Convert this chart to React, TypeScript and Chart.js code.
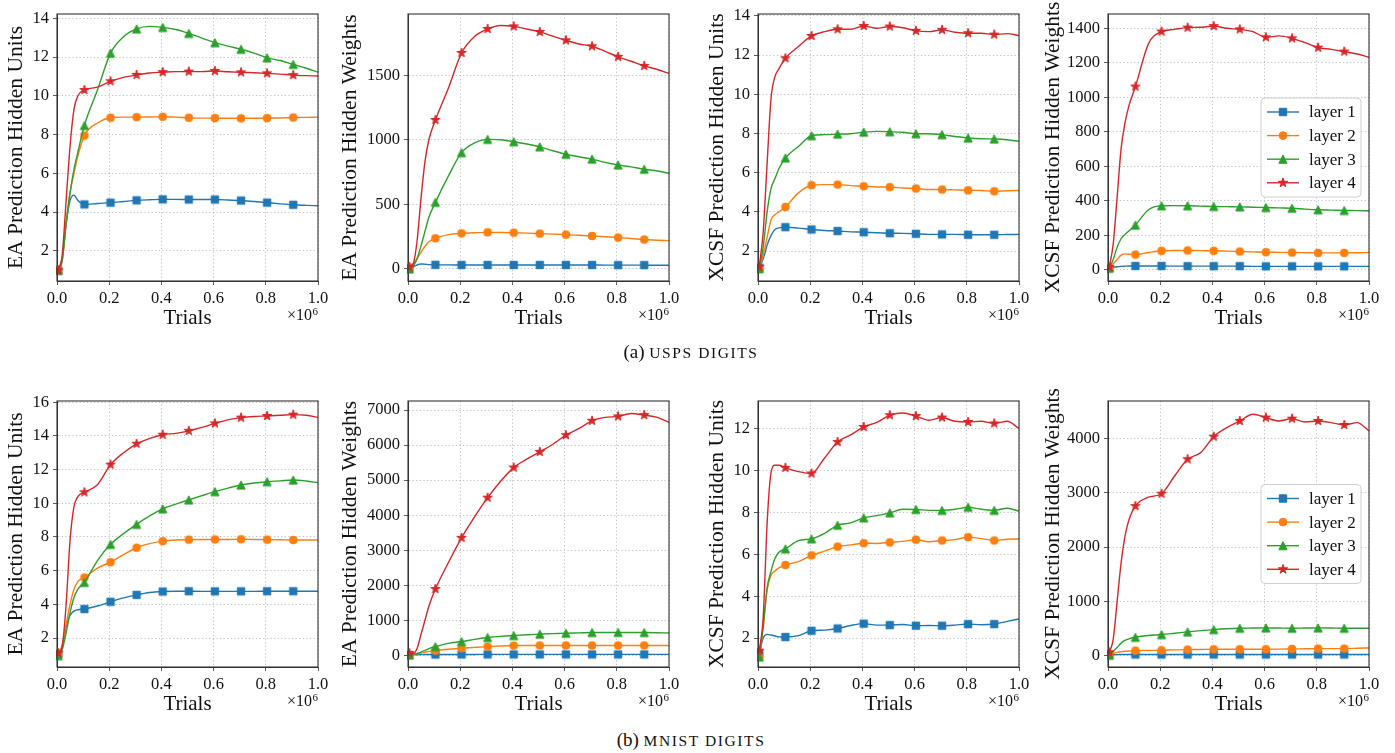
import React, { useEffect, useRef } from "react";
import { Chart, registerables } from "chart.js";

Chart.register(...registerables);

const FONT = '"Liberation Serif", "DejaVu Serif", serif';

// Trials (x 10^6) at which values are sampled
const TRIALS = [0.005, 0.02, 0.035, 0.05, 0.065, 0.08, 0.105, 0.155, 0.205, 0.255, 0.305, 0.355, 0.405, 0.455, 0.505, 0.555, 0.605, 0.655, 0.705, 0.755, 0.805, 0.855, 0.905, 0.955, 1.0];
// indices of TRIALS that carry a marker
const MARKER_IDX = [0, 6, 8, 10, 12, 14, 16, 18, 20, 22];
const X_TICKS = [0, 0.2, 0.4, 0.6, 0.8, 1.0];
const LAYERS = ["layer 1", "layer 2", "layer 3", "layer 4"];
const COLORS = ["#1f77b4", "#ff7f0e", "#2ca02c", "#d62728"];
const MARKERS = ["square", "circle", "triangle", "star"];

// (a) USPS digits - EA prediction hidden units
const USPS_EA_UNITS_L1 = [1.0, 1.6, 3.4, 4.6, 4.88, 4.6, 4.4, 4.45, 4.49, 4.55, 4.61, 4.64, 4.66, 4.66, 4.65, 4.65, 4.65, 4.63, 4.6, 4.55, 4.49, 4.43, 4.38, 4.35, 4.33];
const USPS_EA_UNITS_L2 = [1.0, 1.5, 3.5, 5.0, 6.0, 6.9, 7.95, 8.6, 8.87, 8.9, 8.9, 8.91, 8.92, 8.9, 8.87, 8.85, 8.85, 8.84, 8.84, 8.84, 8.85, 8.86, 8.88, 8.89, 8.9];
const USPS_EA_UNITS_L3 = [1.0, 1.5, 3.4, 5.0, 6.2, 7.1, 8.47, 10.3, 12.2, 13.05, 13.45, 13.58, 13.53, 13.42, 13.22, 12.98, 12.74, 12.56, 12.4, 12.2, 11.96, 11.82, 11.62, 11.42, 11.22];
const USPS_EA_UNITS_L4 = [1.0, 1.8, 4.6, 7.4, 9.3, 10.0, 10.3, 10.45, 10.75, 10.95, 11.08, 11.18, 11.22, 11.25, 11.25, 11.25, 11.28, 11.24, 11.21, 11.19, 11.16, 11.12, 11.07, 11.04, 11.02];
const USPS_EA_UNITS_TICKS = [2, 4, 6, 8, 10, 12, 14];
const USPS_EA_UNITS_RANGE = [0.45, 14.22];

// (a) USPS digits - EA prediction hidden weights
const USPS_EA_WEIGHTS_L1 = [5, 15, 30, 38, 36, 33, 31, 31, 30, 30, 30, 30, 30, 30, 30, 30, 30, 30, 30, 29, 29, 29, 29, 28, 28];
const USPS_EA_WEIGHTS_L2 = [10, 40, 80, 130, 175, 210, 237, 265, 275, 280, 283, 282, 280, 277, 273, 269, 265, 260, 255, 249, 242, 235, 227, 222, 219];
const USPS_EA_WEIGHTS_L3 = [0, 20, 80, 180, 290, 400, 515, 720, 900, 975, 1003, 1000, 985, 967, 945, 915, 888, 868, 850, 825, 805, 790, 772, 758, 741];
const USPS_EA_WEIGHTS_L4 = [15, 40, 220, 550, 830, 1000, 1153, 1400, 1672, 1800, 1858, 1885, 1878, 1858, 1835, 1802, 1770, 1742, 1724, 1685, 1642, 1608, 1572, 1544, 1513];
const USPS_EA_WEIGHTS_TICKS = [0, 500, 1000, 1500];
const USPS_EA_WEIGHTS_RANGE = [-94, 1974];

// (a) USPS digits - XCSF prediction hidden units
const USPS_XCSF_UNITS_L1 = [1.15, 1.6, 2.3, 2.8, 3.1, 3.18, 3.22, 3.17, 3.1, 3.05, 3.02, 2.98, 2.96, 2.93, 2.91, 2.9, 2.88, 2.85, 2.85, 2.85, 2.83, 2.83, 2.83, 2.84, 2.85];
const USPS_XCSF_UNITS_L2 = [1.1, 1.8, 2.7, 3.6, 3.85, 4.0, 4.25, 4.97, 5.36, 5.39, 5.39, 5.34, 5.31, 5.27, 5.26, 5.22, 5.19, 5.14, 5.14, 5.12, 5.1, 5.09, 5.05, 5.08, 5.09];
const USPS_XCSF_UNITS_L3 = [1.1, 2.2, 4.0, 5.2, 5.7, 6.2, 6.75, 7.34, 7.89, 7.94, 7.97, 7.99, 8.07, 8.11, 8.09, 8.06, 7.99, 7.99, 7.94, 7.85, 7.77, 7.73, 7.72, 7.68, 7.6];
const USPS_XCSF_UNITS_L4 = [1.2, 3.0, 6.5, 9.8, 10.9, 11.3, 11.84, 12.44, 12.98, 13.2, 13.32, 13.32, 13.49, 13.37, 13.46, 13.4, 13.24, 13.2, 13.29, 13.17, 13.12, 13.12, 13.05, 13.1, 13.0];
const USPS_XCSF_UNITS_TICKS = [2, 4, 6, 8, 10, 12, 14];
const USPS_XCSF_UNITS_RANGE = [0.47, 14.1];

// (a) USPS digits - XCSF prediction hidden weights
const USPS_XCSF_WEIGHTS_L1 = [10, 15, 18, 20, 21, 22, 22, 22, 22, 21, 21, 21, 21, 21, 21, 20, 20, 20, 20, 20, 20, 20, 20, 20, 20];
const USPS_XCSF_WEIGHTS_L2 = [10, 35, 60, 85, 92, 90, 88, 100, 110, 112, 112, 111, 110, 108, 106, 104, 102, 101, 100, 99, 98, 98, 98, 99, 100];
const USPS_XCSF_WEIGHTS_L3 = [10, 60, 130, 180, 205, 225, 259, 348, 371, 372, 371, 369, 367, 366, 365, 363, 361, 359, 357, 352, 348, 346, 344, 343, 342];
const USPS_XCSF_WEIGHTS_L4 = [15, 150, 420, 700, 850, 950, 1062, 1310, 1381, 1394, 1404, 1406, 1413, 1400, 1394, 1381, 1348, 1356, 1342, 1317, 1288, 1278, 1265, 1251, 1232];
const USPS_XCSF_WEIGHTS_TICKS = [0, 200, 400, 600, 800, 1000, 1200, 1400];
const USPS_XCSF_WEIGHTS_RANGE = [-65, 1483];

// (b) MNIST digits - EA prediction hidden units
const MNIST_EA_UNITS_L1 = [1.05, 1.5, 2.7, 3.35, 3.6, 3.68, 3.72, 3.9, 4.15, 4.38, 4.56, 4.7, 4.76, 4.78, 4.78, 4.77, 4.77, 4.77, 4.77, 4.77, 4.78, 4.78, 4.78, 4.78, 4.78];
const MNIST_EA_UNITS_L2 = [1.0, 1.6, 2.8, 4.0, 4.9, 5.35, 5.59, 6.15, 6.5, 6.95, 7.36, 7.6, 7.75, 7.82, 7.84, 7.85, 7.85, 7.85, 7.86, 7.85, 7.84, 7.83, 7.82, 7.82, 7.82];
const MNIST_EA_UNITS_L3 = [0.95, 1.3, 2.3, 3.5, 4.4, 4.9, 5.3, 6.6, 7.56, 8.2, 8.75, 9.25, 9.67, 9.95, 10.2, 10.45, 10.69, 10.9, 11.08, 11.2, 11.28, 11.33, 11.38, 11.32, 11.22];
const MNIST_EA_UNITS_L4 = [1.1, 1.5, 4.0, 7.8, 9.8, 10.4, 10.65, 11.1, 12.29, 13.0, 13.53, 13.85, 14.07, 14.15, 14.3, 14.5, 14.74, 14.95, 15.08, 15.15, 15.18, 15.22, 15.26, 15.22, 15.1];
const MNIST_EA_UNITS_TICKS = [2, 4, 6, 8, 10, 12, 14, 16];
const MNIST_EA_UNITS_RANGE = [0.28, 16.07];

// (b) MNIST digits - EA prediction hidden weights
const MNIST_EA_WEIGHTS_L1 = [5, 10, 15, 18, 20, 20, 20, 22, 23, 24, 25, 25, 25, 25, 25, 25, 25, 25, 25, 25, 25, 25, 25, 25, 25];
const MNIST_EA_WEIGHTS_L2 = [10, 20, 40, 60, 85, 110, 134, 170, 200, 225, 248, 265, 277, 280, 280, 280, 280, 280, 280, 280, 280, 280, 280, 280, 280];
const MNIST_EA_WEIGHTS_L3 = [10, 25, 50, 90, 140, 190, 248, 340, 392, 455, 506, 540, 563, 585, 602, 618, 630, 640, 650, 652, 652, 650, 650, 645, 635];
const MNIST_EA_WEIGHTS_L4 = [60, 50, 200, 600, 1000, 1400, 1891, 2650, 3352, 3950, 4499, 4970, 5358, 5600, 5807, 6026, 6285, 6476, 6695, 6791, 6820, 6905, 6858, 6791, 6648];
const MNIST_EA_WEIGHTS_TICKS = [0, 1000, 2000, 3000, 4000, 5000, 6000, 7000];
const MNIST_EA_WEIGHTS_RANGE = [-335, 7260];

// (b) MNIST digits - XCSF prediction hidden units
const MNIST_XCSF_UNITS_L1 = [1.25, 2.0, 2.18, 2.15, 2.1, 2.06, 2.05, 2.12, 2.35, 2.38, 2.46, 2.6, 2.69, 2.62, 2.62, 2.65, 2.59, 2.6, 2.59, 2.62, 2.67, 2.64, 2.67, 2.8, 2.91];
const MNIST_XCSF_UNITS_L2 = [1.1, 2.5, 4.3, 5.0, 5.2, 5.35, 5.49, 5.65, 5.95, 6.15, 6.37, 6.45, 6.53, 6.52, 6.57, 6.62, 6.7, 6.6, 6.66, 6.7, 6.82, 6.75, 6.66, 6.72, 6.73];
const MNIST_XCSF_UNITS_L3 = [1.1, 2.6, 4.4, 5.2, 5.8, 6.1, 6.26, 6.65, 6.74, 7.0, 7.39, 7.5, 7.74, 7.85, 7.98, 8.15, 8.14, 8.1, 8.1, 8.15, 8.25, 8.15, 8.1, 8.2, 8.06];
const MNIST_XCSF_UNITS_L4 = [1.4, 3.0, 7.5, 9.9, 10.25, 10.25, 10.13, 9.95, 9.86, 10.6, 11.36, 11.7, 12.08, 12.3, 12.64, 12.75, 12.6, 12.4, 12.53, 12.35, 12.32, 12.35, 12.25, 12.35, 12.0];
const MNIST_XCSF_UNITS_TICKS = [2, 4, 6, 8, 10, 12];
const MNIST_XCSF_UNITS_RANGE = [0.62, 13.32];

// (b) MNIST digits - XCSF prediction hidden weights
const MNIST_XCSF_WEIGHTS_L1 = [10, 15, 18, 20, 20, 20, 20, 20, 20, 20, 20, 20, 20, 20, 20, 20, 20, 20, 20, 20, 20, 20, 20, 20, 20];
const MNIST_XCSF_WEIGHTS_L2 = [10, 40, 60, 72, 80, 86, 92, 95, 98, 105, 111, 114, 117, 118, 118, 118, 118, 120, 123, 126, 129, 129, 129, 135, 141];
const MNIST_XCSF_WEIGHTS_L3 = [10, 80, 150, 230, 280, 310, 338, 370, 388, 412, 437, 460, 480, 495, 505, 508, 511, 508, 505, 508, 511, 508, 505, 505, 505];
const MNIST_XCSF_WEIGHTS_L4 = [60, 300, 1000, 1700, 2200, 2500, 2757, 2920, 2985, 3311, 3619, 3742, 4037, 4203, 4326, 4449, 4388, 4326, 4369, 4308, 4326, 4296, 4252, 4296, 4142];
const MNIST_XCSF_WEIGHTS_TICKS = [0, 1000, 2000, 3000, 4000];
const MNIST_XCSF_WEIGHTS_RANGE = [-210, 4694];

type PanelDef = {
  yTitle: string;
  series: number[][];
  yTicks: number[];
  yRange: number[];
  col: number;
  row: number;
  legend: boolean;
};

const PANELS: PanelDef[] = [
  { yTitle: "EA Prediction Hidden Units", series: [USPS_EA_UNITS_L1, USPS_EA_UNITS_L2, USPS_EA_UNITS_L3, USPS_EA_UNITS_L4], yTicks: USPS_EA_UNITS_TICKS, yRange: USPS_EA_UNITS_RANGE, col: 0, row: 0, legend: false },
  { yTitle: "EA Prediction Hidden Weights", series: [USPS_EA_WEIGHTS_L1, USPS_EA_WEIGHTS_L2, USPS_EA_WEIGHTS_L3, USPS_EA_WEIGHTS_L4], yTicks: USPS_EA_WEIGHTS_TICKS, yRange: USPS_EA_WEIGHTS_RANGE, col: 1, row: 0, legend: false },
  { yTitle: "XCSF Prediction Hidden Units", series: [USPS_XCSF_UNITS_L1, USPS_XCSF_UNITS_L2, USPS_XCSF_UNITS_L3, USPS_XCSF_UNITS_L4], yTicks: USPS_XCSF_UNITS_TICKS, yRange: USPS_XCSF_UNITS_RANGE, col: 2, row: 0, legend: false },
  { yTitle: "XCSF Prediction Hidden Weights", series: [USPS_XCSF_WEIGHTS_L1, USPS_XCSF_WEIGHTS_L2, USPS_XCSF_WEIGHTS_L3, USPS_XCSF_WEIGHTS_L4], yTicks: USPS_XCSF_WEIGHTS_TICKS, yRange: USPS_XCSF_WEIGHTS_RANGE, col: 3, row: 0, legend: true },
  { yTitle: "EA Prediction Hidden Units", series: [MNIST_EA_UNITS_L1, MNIST_EA_UNITS_L2, MNIST_EA_UNITS_L3, MNIST_EA_UNITS_L4], yTicks: MNIST_EA_UNITS_TICKS, yRange: MNIST_EA_UNITS_RANGE, col: 0, row: 1, legend: false },
  { yTitle: "EA Prediction Hidden Weights", series: [MNIST_EA_WEIGHTS_L1, MNIST_EA_WEIGHTS_L2, MNIST_EA_WEIGHTS_L3, MNIST_EA_WEIGHTS_L4], yTicks: MNIST_EA_WEIGHTS_TICKS, yRange: MNIST_EA_WEIGHTS_RANGE, col: 1, row: 1, legend: false },
  { yTitle: "XCSF Prediction Hidden Units", series: [MNIST_XCSF_UNITS_L1, MNIST_XCSF_UNITS_L2, MNIST_XCSF_UNITS_L3, MNIST_XCSF_UNITS_L4], yTicks: MNIST_XCSF_UNITS_TICKS, yRange: MNIST_XCSF_UNITS_RANGE, col: 2, row: 1, legend: false },
  { yTitle: "XCSF Prediction Hidden Weights", series: [MNIST_XCSF_WEIGHTS_L1, MNIST_XCSF_WEIGHTS_L2, MNIST_XCSF_WEIGHTS_L3, MNIST_XCSF_WEIGHTS_L4], yTicks: MNIST_XCSF_WEIGHTS_TICKS, yRange: MNIST_XCSF_WEIGHTS_RANGE, col: 3, row: 1, legend: true },
];

// ---------- layout ----------
const PLOT_LEFT = [57, 408, 758, 1108];
const PLOT_W = 261;
const PLOT_TOP = [14, 401];
const PLOT_H = [267, 266];
const Y_AXIS_W = [57, 75, 75, 75];
const Y_TITLE_X = [16, 350, 717, 1053];
const PAD_TOP = 14;
const PAD_RIGHT = 16;
const X_AXIS_H = 60;
const TEXT = "#111111";
const Y_TITLE_SIZE = 21.5;

function drawMarker(ctx: CanvasRenderingContext2D, kind: string, x: number, y: number, color: string) {
  ctx.save();
  ctx.fillStyle = color;
  ctx.strokeStyle = color;
  ctx.lineWidth = 1;
  ctx.lineJoin = "miter";
  ctx.beginPath();
  if (kind === "square") {
    ctx.rect(x - 3.7, y - 3.7, 7.4, 7.4);
  } else if (kind === "circle") {
    ctx.arc(x, y, 3.9, 0, Math.PI * 2);
  } else if (kind === "triangle") {
    const h = 4.1;
    ctx.moveTo(x, y - h);
    ctx.lineTo(x + h, y + h);
    ctx.lineTo(x - h, y + h);
    ctx.closePath();
  } else {
    const ro = 4.9;
    const ri = ro * 0.382;
    for (let k = 0; k < 10; k++) {
      const r = k % 2 === 0 ? ro : ri;
      const a = -Math.PI / 2 + (k * Math.PI) / 5;
      const px = x + r * Math.cos(a);
      const py = y + r * Math.sin(a);
      if (k === 0) ctx.moveTo(px, py);
      else ctx.lineTo(px, py);
    }
    ctx.closePath();
  }
  ctx.fill();
  ctx.stroke();
  ctx.restore();
}

function markerImage(kind: string, color: string): HTMLCanvasElement {
  const c = document.createElement("canvas");
  c.width = 14;
  c.height = 14;
  const ctx = c.getContext("2d")!;
  drawMarker(ctx, kind, 7, 7, color);
  return c;
}

function PanelChart({ def }: { def: PanelDef }) {
  const ref = useRef<HTMLCanvasElement | null>(null);
  const col = def.col;
  const row = def.row;
  const yw = Y_AXIS_W[col];
  const left = PLOT_LEFT[col] - yw;
  const top = PLOT_TOP[row] - PAD_TOP;
  const width = yw + PLOT_W + PAD_RIGHT;
  const height = PAD_TOP + PLOT_H[row] + X_AXIS_H;
  const yTitlePad = Y_TITLE_X[col] - left - (Y_TITLE_SIZE * 1.2) / 2;

  useEffect(() => {
    if (!ref.current) return;
    const imgs = MARKERS.map((m, i) => markerImage(m, COLORS[i]));
    const datasets = def.series.map((vals, i) => ({
      label: LAYERS[i],
      data: vals.map((v, j) => ({ x: TRIALS[j], y: v })),
      borderColor: COLORS[i],
      backgroundColor: COLORS[i],
      borderWidth: 1.4,
      cubicInterpolationMode: "monotone" as const,
      pointStyle: imgs[i] as any,
      pointRadius: (c: any) => (MARKER_IDX.includes(c.dataIndex) ? 4 : 0),
      pointHoverRadius: 0,
      order: 3 - i,
      clip: 1,
    }));

    const overlay = {
      id: "frameAndExtras",
      afterDraw(chart: any) {
        const { ctx, chartArea: a } = chart;
        ctx.save();
        ctx.strokeStyle = "#333333";
        ctx.lineWidth = 1.1;
        ctx.strokeRect(a.left, a.top, a.right - a.left, a.bottom - a.top);
        // offset text x10^6
        ctx.fillStyle = TEXT;
        ctx.textBaseline = "alphabetic";
        ctx.textAlign = "right";
        ctx.font = `11px ${FONT}`;
        const w6 = ctx.measureText("6").width;
        ctx.fillText("6", a.right, a.bottom + 34);
        ctx.font = `16px ${FONT}`;
        ctx.fillText("\u00d710", a.right - w6 - 0.5, a.bottom + 39);
        if (def.legend) {
          const bw = 100;
          const bh = 99;
          const bx = a.right - 8 - bw;
          const by = (a.top + a.bottom) / 2 - bh / 2;
          const r = 4;
          ctx.beginPath();
          ctx.moveTo(bx + r, by);
          ctx.lineTo(bx + bw - r, by);
          ctx.arcTo(bx + bw, by, bx + bw, by + r, r);
          ctx.lineTo(bx + bw, by + bh - r);
          ctx.arcTo(bx + bw, by + bh, bx + bw - r, by + bh, r);
          ctx.lineTo(bx + r, by + bh);
          ctx.arcTo(bx, by + bh, bx, by + bh - r, r);
          ctx.lineTo(bx, by + r);
          ctx.arcTo(bx, by, bx + r, by, r);
          ctx.closePath();
          ctx.fillStyle = "rgba(255,255,255,0.85)";
          ctx.fill();
          ctx.strokeStyle = "#d0d0d0";
          ctx.lineWidth = 1;
          ctx.stroke();
          ctx.font = `17px ${FONT}`;
          ctx.textAlign = "left";
          ctx.textBaseline = "middle";
          for (let i = 0; i < LAYERS.length; i++) {
            const cy = by + 14 + i * 23.6;
            ctx.strokeStyle = COLORS[i];
            ctx.lineWidth = 1.4;
            ctx.beginPath();
            ctx.moveTo(bx + 6, cy);
            ctx.lineTo(bx + 38, cy);
            ctx.stroke();
            drawMarker(ctx, MARKERS[i], bx + 22, cy, COLORS[i]);
            ctx.fillStyle = TEXT;
            ctx.fillText(LAYERS[i], bx + 48, cy + 1);
          }
        }
        ctx.restore();
      },
    };

    const chart = new Chart(ref.current, {
      type: "line",
      data: { datasets },
      options: {
        animation: false,
        responsive: false,
        maintainAspectRatio: false,
        layout: { padding: { top: PAD_TOP, right: PAD_RIGHT, left: 0, bottom: 0 } },
        plugins: { legend: { display: false }, tooltip: { enabled: false } },
        events: [],
        scales: {
          x: {
            type: "linear",
            min: 0,
            max: 1,
            afterBuildTicks: (s: any) => {
              s.ticks = X_TICKS.map((v) => ({ value: v }));
            },
            afterFit: (s: any) => {
              s.height = X_AXIS_H;
              s.paddingLeft = 0;
              s.paddingRight = 0;
              s.paddingTop = 0;
              s.paddingBottom = 0;
            },
            ticks: {
              autoSkip: false,
              maxRotation: 0,
              minRotation: 0,
              padding: 4,
              color: TEXT,
              font: { family: FONT, size: 16.5 },
              callback: (v: any) => Number(v).toFixed(1),
            },
            grid: { color: "#b0b0b0", lineWidth: 0.8, tickColor: "#333333", tickLength: 4, drawTicks: true },
            border: { display: true, color: "#333333", width: 1, dash: [1.2, 2.4] },
            title: { display: true, text: "Trials", color: TEXT, font: { family: FONT, size: 21, lineHeight: 1.2 }, padding: { top: 0, bottom: 10 } },
          },
          y: {
            type: "linear",
            min: def.yRange[0],
            max: def.yRange[1],
            afterBuildTicks: (s: any) => {
              s.ticks = def.yTicks.map((v) => ({ value: v }));
            },
            afterFit: (s: any) => {
              s.width = yw;
              s.paddingLeft = 0;
              s.paddingRight = 0;
              s.paddingTop = 0;
              s.paddingBottom = 0;
            },
            ticks: {
              padding: 4,
              color: TEXT,
              font: { family: FONT, size: 16.5 },
              callback: (v: any) => String(v),
            },
            grid: { color: "#b0b0b0", lineWidth: 0.8, tickColor: "#333333", tickLength: 4, drawTicks: true },
            border: { display: true, color: "#333333", width: 1, dash: [1.2, 2.4] },
            title: { display: true, text: def.yTitle, color: TEXT, font: { family: FONT, size: Y_TITLE_SIZE, lineHeight: 1.2 }, padding: { top: yTitlePad, bottom: 0 } },
          },
        },
      } as any,
      plugins: [overlay],
    });
    return () => chart.destroy();
  }, [def]);

  return (
    <canvas
      ref={ref}
      width={width}
      height={height}
      style={{ position: "absolute", left, top, width, height }}
    />
  );
}

function Caption({ label, name, y }: { label: string; name: string; y: number }) {
  return (
    <div
      style={{
        position: "absolute",
        left: 691,
        top: y - 12,
        transform: "translateX(-50%)",
        whiteSpace: "nowrap",
        fontFamily: FONT,
        fontSize: 19,
        lineHeight: "24px",
        color: TEXT,
      }}
    >
      {label}{" "}
      <span style={{ fontSize: 15.5, letterSpacing: 1.6 }}>{name}</span>
    </div>
  );
}

export default function App() {
  return (
    <div style={{ position: "absolute", left: 0, top: 0, width: 1395, height: 753, background: "#fff", overflow: "hidden" }}>
      {PANELS.map((p, i) => (
        <PanelChart key={i} def={p} />
      ))}
      <Caption label="(a)" name="USPS DIGITS" y={352} />
      <Caption label="(b)" name="MNIST DIGITS" y={740} />
    </div>
  );
}
